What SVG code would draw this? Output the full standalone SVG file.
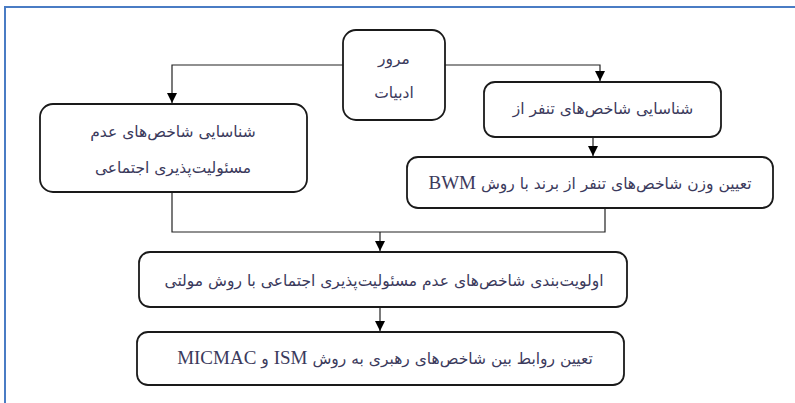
<svg xmlns="http://www.w3.org/2000/svg" width="795" height="403" viewBox="0 0 795 403">
<defs>
<marker id="ah" viewBox="0 0 10 10" refX="10" refY="5" markerWidth="10" markerHeight="10" markerUnits="userSpaceOnUse" orient="auto">
<path d="M0,0 L10,5 L0,10 z" fill="#000"/>
</marker>
<style>
.box{fill:#fff;stroke:#1a1a1a;stroke-width:1.8}
.t{font-family:"DejaVu Sans",sans-serif;font-size:15.5px;fill:#3b3a5c;text-anchor:middle;direction:rtl;unicode-bidi:embed}
.lat{font-family:"Liberation Serif",serif;font-size:19px}
.c{fill:none;stroke:#222;stroke-width:1.2}
.frame{fill:none;stroke:#4a7cc4;stroke-width:2}
</style>
</defs>
<rect width="795" height="403" fill="#fff"/>
<path class="frame" d="M5,403 V7 H795"/>
<g id="connectors">
<path class="c" d="M343,65 H172 V103" marker-end="url(#ah)"/>
<path class="c" d="M445,65 H600 V81" marker-end="url(#ah)"/>
<path class="c" d="M593,137 V156" marker-end="url(#ah)"/>
<path class="c" d="M172,192 V232 H605 V208"/>
<path class="c" d="M380,232 V251" marker-end="url(#ah)"/>
<path class="c" d="M380,307 V331" marker-end="url(#ah)"/>
</g>
<g id="n1">
<rect class="box" x="343" y="30" width="102" height="90" rx="13"/>
<text class="t" x="394" y="64" direction="rtl">مرور</text>
<text class="t" x="394" y="98" direction="rtl">ادبیات</text>
</g>
<g id="n2">
<rect class="box" x="40" y="104" width="267" height="88" rx="13"/>
<text class="t" x="173" y="137" direction="rtl">شناسایی شاخص‌های عدم</text>
<text class="t" x="173" y="173" direction="rtl">مسئولیت‌پذیری اجتماعی</text>
</g>
<g id="n3">
<rect class="box" x="484" y="82" width="237" height="55" rx="11"/>
<text class="t" x="603" y="114" direction="rtl">شناسایی شاخص‌های تنفر از</text>
</g>
<g id="n4">
<rect class="box" x="407" y="157" width="366" height="51" rx="11"/>
<text class="t" x="590" y="189" direction="rtl">تعیین وزن شاخص‌های تنفر از برند با روش <tspan class="lat">BWM</tspan></text>
</g>
<g id="n5">
<rect class="box" x="139" y="252" width="488" height="55" rx="11"/>
<text class="t" x="384" y="286" direction="rtl">اولویت‌بندی شاخص‌های عدم مسئولیت‌پذیری اجتماعی با روش مولتی</text>
</g>
<g id="n6">
<rect class="box" x="137" y="332" width="487" height="53" rx="11"/>
<text class="t" x="385" y="364" direction="rtl">تعیین روابط بین شاخص‌های رهبری به روش <tspan class="lat">ISM</tspan> و <tspan class="lat">MICMAC</tspan></text>
</g>
</svg>
